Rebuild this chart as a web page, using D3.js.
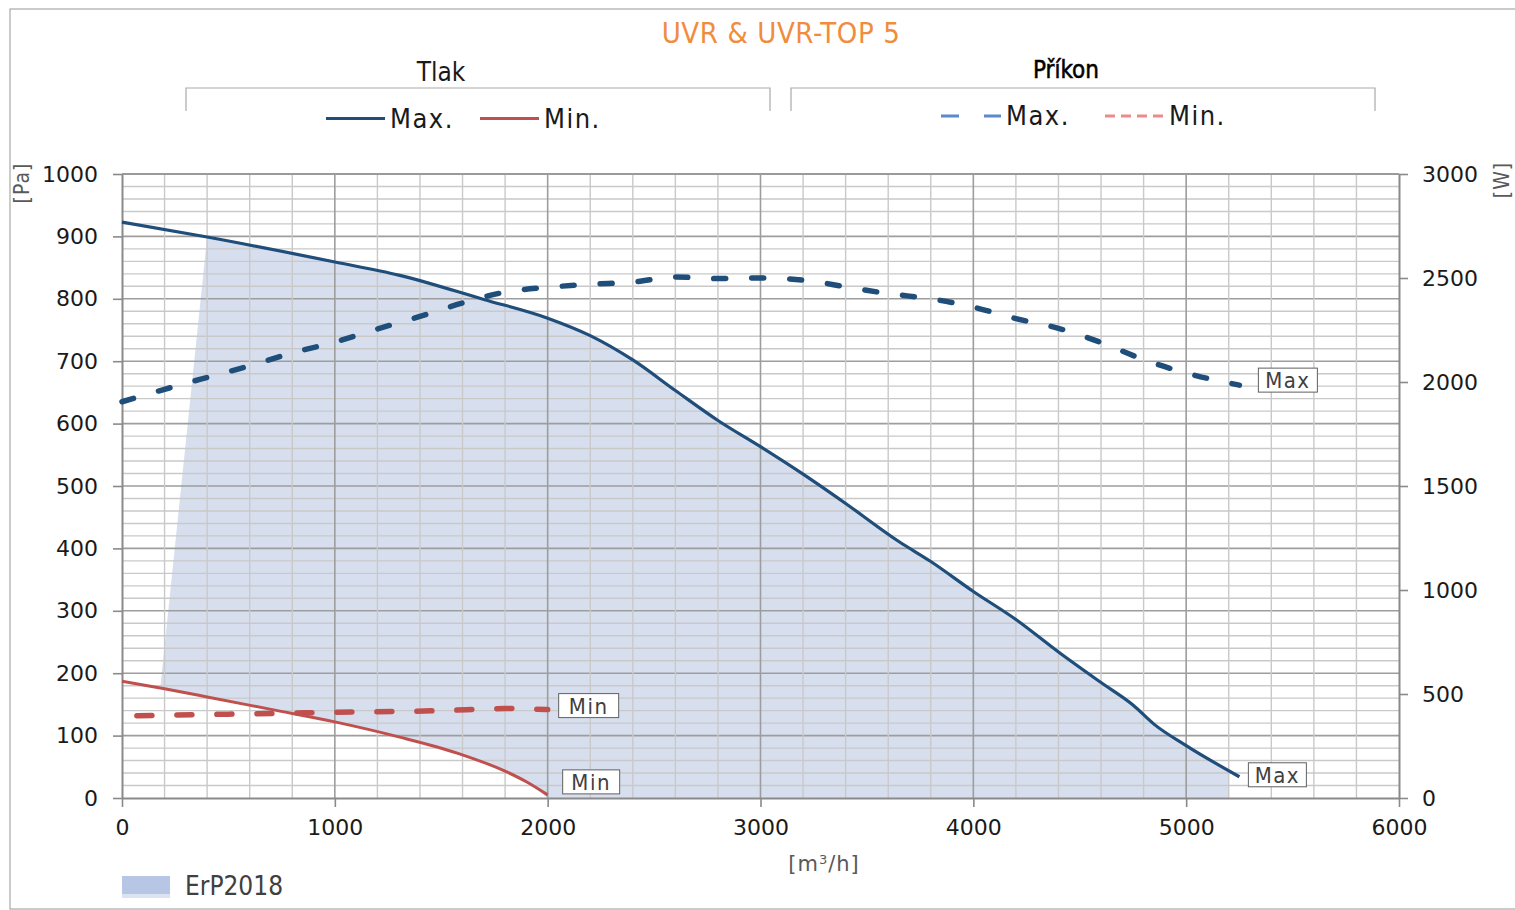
<!DOCTYPE html>
<html><head><meta charset="utf-8">
<script src="https://cdn.jsdelivr.net/npm/d3@7"></script>
<style>body{margin:0;background:#fff;overflow:hidden}</style>
</head><body><svg id="c" width="1515" height="910"></svg>
<script>
// ---------- data ----------
const maxPressureQ  = [0, 400, 1000, 1300, 1700, 2000, 2200, 2400, 2600, 2800, 3000, 3200, 3400, 3650, 3800, 4000, 4200, 4400, 4600, 4750, 4850, 5000, 5250];
const maxPressurePa = [923, 899, 859, 838, 799, 769, 741, 702, 653, 605, 563, 519, 472, 411, 379, 331, 286, 234, 185, 149, 118, 84, 34];

const minPressureQ  = [0, 200, 400, 700, 1000, 1300, 1575, 1800, 1900, 2000];
const minPressurePa = [187, 175, 162, 142, 122, 98, 72, 43, 26, 5];

const maxPowerQ = [0, 200, 400, 600, 800, 1000, 1200, 1400, 1600, 1800, 2000, 2200, 2400, 2600, 2800, 3000, 3200, 3400, 3600, 3800, 4000, 4200, 4400, 4600, 4800, 5000, 5250];
const maxPowerW = [1905, 1965, 2022, 2078, 2140, 2192, 2255, 2315, 2380, 2432, 2455, 2470, 2480, 2505, 2497, 2500, 2490, 2458, 2425, 2400, 2360, 2305, 2258, 2190, 2108, 2043, 1985];

const minPowerQ = [70, 500, 1000, 1500, 1800, 2000];
const minPowerW = [396, 403, 412, 420, 430, 425];

// ErP2018 region boundary (top along max curve, bottom along min curve / zero)
const erpTopQ  = [180, 400, 1000, 1300, 1700, 2000, 2200, 2400, 2600, 2800, 3000, 3200, 3400, 3650, 3800, 4000, 4200, 4400, 4600, 4750, 4850, 5000, 5200];
const erpTopPa = [178, 899, 859, 838, 799, 769, 741, 702, 653, 605, 563, 519, 472, 411, 379, 331, 286, 234, 185, 149, 118, 84, 44];
const erpBottomQ  = [5200, 2000, 1900, 1800, 1575, 1300, 1000, 700, 400, 180];
const erpBottomPa = [0, 0, 26, 43, 72, 98, 122, 142, 162, 178];

const xTicks = [0, 1000, 2000, 3000, 4000, 5000, 6000];
const yLeftTicks = [0, 100, 200, 300, 400, 500, 600, 700, 800, 900, 1000];
const yRightTicks = [0, 500, 1000, 1500, 2000, 2500, 3000];

const title = "UVR & UVR-TOP 5";
const pressureGroup = "Tlak";
const powerGroup = "Příkon";
const seriesNames = ["Max.", "Min."];
const areaName = "ErP2018";

// ---------- setup ----------
const NARROW = "'Liberation Sans Narrow','DejaVu Sans Condensed','Roboto Condensed',sans-serif";
const NUM = "'DejaVu Sans',sans-serif";
const BLUE = "#1f4e7a", RED = "#c0504d", LBLUE = "#5b8bcb", PINK = "#f08a8a";

const svg = d3.select("#c");
const x = d3.scaleLinear().domain([0, 6000]).range([122, 1399]);
const yL = d3.scaleLinear().domain([0, 1000]).range([798, 174]);
const yR = d3.scaleLinear().domain([0, 3000]).range([798, 174]);

// outer border
svg.append("rect").attr("x", 10).attr("y", 9).attr("width", 1530).attr("height", 900)
  .attr("fill", "none").attr("stroke", "#a9a9a9").attr("stroke-width", 1.2);

// ErP area
const pts = erpTopQ.map((q, i) => [x(q), yL(erpTopPa[i])])
  .concat(erpBottomQ.map((q, i) => [x(q), yL(erpBottomPa[i])]));
svg.append("path").attr("d", d3.line()(pts) + "Z").attr("fill", "#d7dfee");

// grid
const g = svg.append("g");
d3.range(0, 1001, 20).forEach(v => {
  const major = v % 100 === 0;
  if (v === 0 || v === 1000) return;
  g.append("line").attr("x1", x(0)).attr("x2", x(6000)).attr("y1", yL(v)).attr("y2", yL(v))
    .attr("stroke", major ? "#9d9d9d" : "#c9c9c9").attr("stroke-width", major ? 1.6 : 1.4);
});
d3.range(200, 6000, 200).forEach(v => {
  const major = v % 1000 === 0;
  g.append("line").attr("y1", yL(0)).attr("y2", yL(1000)).attr("x1", x(v)).attr("x2", x(v))
    .attr("stroke", major ? "#9d9d9d" : "#c9c9c9").attr("stroke-width", major ? 1.6 : 1.4);
});
g.append("line").attr("x1", x(0)).attr("x2", x(6000)).attr("y1", yL(1000)).attr("y2", yL(1000)).attr("stroke", "#9a9a9a").attr("stroke-width", 2);

// axes
function styleAxis(sel) {
  sel.select(".domain").attr("stroke", "#8a8a8a").attr("stroke-width", 2);
  sel.selectAll(".tick line").attr("stroke", "#8a8a8a").attr("stroke-width", 1.6);
  sel.selectAll(".tick text").attr("font-family", NUM).attr("font-size", 22).attr("fill", "#1a1a1a");
}
svg.append("g").attr("transform", `translate(0,${yL(0)})`)
  .call(d3.axisBottom(x).tickValues(xTicks).tickSize(9).tickPadding(12).tickSizeOuter(0).tickFormat(d3.format("d")))
  .call(styleAxis);
svg.append("g").attr("transform", `translate(${x(0)},0)`)
  .call(d3.axisLeft(yL).tickValues(yLeftTicks).tickSize(9).tickPadding(15).tickSizeOuter(0).tickFormat(d3.format("d")))
  .call(styleAxis);
svg.append("g").attr("transform", `translate(${x(6000)},0)`)
  .call(d3.axisRight(yR).tickValues(yRightTicks).tickSize(9).tickPadding(14).tickSizeOuter(0).tickFormat(d3.format("d")))
  .call(styleAxis);

// lines
const lineL = d3.line().x(d => x(d[0])).y(d => yL(d[1])).curve(d3.curveMonotoneX);
const lineR = d3.line().x(d => x(d[0])).y(d => yR(d[1])).curve(d3.curveMonotoneX);
const zip = (a, b) => a.map((v, i) => [v, b[i]]);

svg.append("path").attr("d", lineR(zip(minPowerQ, minPowerW))).attr("fill", "none")
  .attr("stroke", RED).attr("stroke-width", 5.5).attr("stroke-dasharray", "15 25").attr("stroke-linecap", "round");
svg.append("path").attr("d", lineL(zip(minPressureQ, minPressurePa))).attr("fill", "none")
  .attr("stroke", RED).attr("stroke-width", 3);
svg.append("path").attr("d", lineR(zip(maxPowerQ, maxPowerW))).attr("fill", "none")
  .attr("stroke", BLUE).attr("stroke-width", 5.5).attr("stroke-dasharray", "12 26").attr("stroke-linecap", "round");
svg.append("path").attr("d", lineL(zip(maxPressureQ, maxPressurePa))).attr("fill", "none")
  .attr("stroke", BLUE).attr("stroke-width", 3.2);

// data labels
function box(px, cy, w, txt) {
  svg.append("rect").attr("x", px).attr("y", cy - 12).attr("width", w).attr("height", 24)
    .attr("fill", "#fff").attr("stroke", "#606060").attr("stroke-width", 1);
  svg.append("text").attr("x", px + w / 2).attr("y", cy + 8).attr("text-anchor", "middle")
    .attr("font-family", NARROW).attr("font-size", 22).attr("letter-spacing", 1.5).attr("fill", "#404040").text(txt);
}
const lastI = a => a.length - 1;
box(x(maxPowerQ[lastI(maxPowerQ)]) + 19, yR(maxPowerW[lastI(maxPowerW)]) - 5, 59, "Max");
box(x(maxPressureQ[lastI(maxPressureQ)]) + 9, yL(maxPressurePa[lastI(maxPressurePa)]) - 2, 58, "Max");
box(x(minPowerQ[lastI(minPowerQ)]) + 11, yR(minPowerW[lastI(minPowerW)]) - 4, 60, "Min");
box(x(minPressureQ[lastI(minPressureQ)]) + 15, yL(minPressurePa[lastI(minPressurePa)]) - 13, 57, "Min");

// title
svg.append("text").attr("x", 781).attr("y", 43).attr("text-anchor", "middle")
  .attr("font-family", NARROW).attr("font-size", 29).attr("letter-spacing", 0.6).attr("fill", "#f08c3c").text(title);

// legend groups
svg.append("text").attr("x", 441).attr("y", 81).attr("text-anchor", "middle")
  .attr("font-family", NARROW).attr("font-size", 26).attr("fill", "#1a1a1a").text(pressureGroup);
svg.append("text").attr("x", 1066).attr("y", 78).attr("text-anchor", "middle")
  .attr("font-family", NARROW).attr("font-size", 24).attr("fill", "#000")
  .attr("stroke", "#000").attr("stroke-width", 0.5).text(powerGroup);
[[186, 770], [791, 1375]].forEach(([a, b]) => {
  svg.append("path").attr("d", `M${a},111V88H${b}V111`).attr("fill", "none").attr("stroke", "#a9a9a9").attr("stroke-width", 1.2);
});
function legItem(x1, x2, y, color, dash, w, label, ty) {
  svg.append("line").attr("x1", x1).attr("x2", x2).attr("y1", y).attr("y2", y)
    .attr("stroke", color).attr("stroke-width", w).attr("stroke-dasharray", dash);
  svg.append("text").attr("x", x2 + 5).attr("y", ty).attr("font-family", NARROW).attr("font-size", 27)
    .attr("letter-spacing", 1.5).attr("fill", "#1a1a1a").text(label);
}
legItem(326, 385, 118.5, BLUE, null, 3.2, seriesNames[0], 128);
legItem(480, 539, 118.5, RED, null, 3.2, seriesNames[1], 128);
legItem(941, 1001, 116, LBLUE, "18 25", 3.2, seriesNames[0], 125);
legItem(1105, 1164, 116, PINK, "10 6", 3.2, seriesNames[1], 125);

// axis titles
svg.append("text").attr("transform", "translate(29,183) rotate(-90)").attr("text-anchor", "middle")
  .attr("font-family", NARROW).attr("font-size", 21).attr("letter-spacing", 1).attr("fill", "#595959").text("[Pa]");
svg.append("text").attr("transform", "translate(1509,180) rotate(-90)").attr("text-anchor", "middle")
  .attr("font-family", NARROW).attr("font-size", 21).attr("letter-spacing", 1).attr("fill", "#595959").text("[W]");
const xt = svg.append("text").attr("x", 824).attr("y", 871).attr("text-anchor", "middle")
  .attr("font-family", NUM).attr("font-size", 21).attr("letter-spacing", 1).attr("fill", "#595959");
xt.append("tspan").text("[m");
xt.append("tspan").attr("font-size", 13).attr("dy", -7).text("3");
xt.append("tspan").attr("dy", 7).text("/h]");

// ErP legend
svg.append("rect").attr("x", 122).attr("y", 876).attr("width", 48).attr("height", 18).attr("fill", "#b7c6e4");
svg.append("rect").attr("x", 122).attr("y", 894).attr("width", 48).attr("height", 4).attr("fill", "#dbe3f2");
svg.append("text").attr("x", 185).attr("y", 895).attr("font-family", NARROW).attr("font-size", 26)
  .attr("fill", "#404040").text(areaName);
</script></body></html>
